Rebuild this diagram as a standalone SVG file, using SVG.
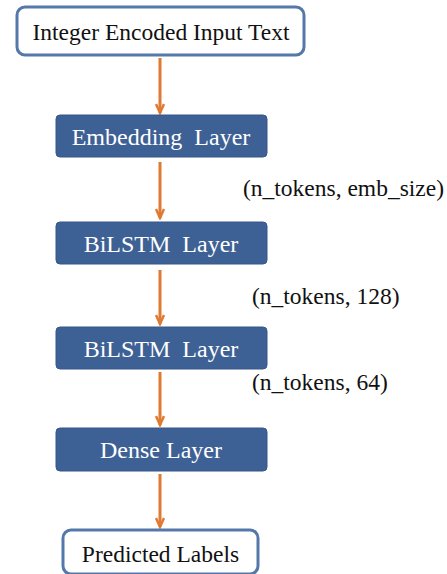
<svg xmlns="http://www.w3.org/2000/svg" width="447" height="574" viewBox="0 0 447 574">
<style>
.wbox{fill:#fff;stroke:#5578ab;stroke-width:3}
.bbox{fill:#3e6195;stroke:#37578a;stroke-width:1}
text{font-family:'Liberation Serif','Times New Roman',Times,serif;white-space:pre}
.t{font-size:23.5px;text-anchor:middle}
.tw{fill:#fff;font-size:24px}
.tb{fill:#111}
.lbl{font-size:23.5px;fill:#111}
.con{stroke:#e07a32;stroke-width:3;fill:none}
</style>
<defs>
<marker id="ah" viewBox="0 0 12 10" refX="10" refY="5" markerWidth="12" markerHeight="10" markerUnits="userSpaceOnUse" orient="auto">
<path d="M1,1 L10,5 L1,9" fill="none" stroke="#e07a32" stroke-width="2.5"/>
</marker>
</defs>
<rect width="447" height="574" fill="#fff"/>
<g id="connectors">
<line class="con" x1="160" y1="58" x2="160" y2="113" marker-end="url(#ah)"/>
<line class="con" x1="160" y1="162" x2="160" y2="218" marker-end="url(#ah)"/>
<line class="con" x1="160" y1="270" x2="160" y2="324" marker-end="url(#ah)"/>
<line class="con" x1="160" y1="372" x2="160" y2="425" marker-end="url(#ah)"/>
<line class="con" x1="160" y1="474" x2="160" y2="527" marker-end="url(#ah)"/>
</g>
<g id="input">
<rect class="wbox" x="17" y="7" width="287" height="48" rx="8"/>
<text class="t tb" x="161" y="40">Integer Encoded Input Text</text>
</g>
<g id="embedding">
<rect class="bbox" x="56" y="115" width="211" height="42" rx="4"/>
<text class="t tw" x="161" y="145" xml:space="preserve">Embedding  Layer</text>
</g>
<g id="bilstm1">
<rect class="bbox" x="56" y="222" width="211" height="42" rx="4"/>
<text class="t tw" x="161" y="252" xml:space="preserve">BiLSTM  Layer</text>
</g>
<g id="bilstm2">
<rect class="bbox" x="56" y="327" width="211" height="42" rx="4"/>
<text class="t tw" x="161" y="357" xml:space="preserve">BiLSTM  Layer</text>
</g>
<g id="dense">
<rect class="bbox" x="56" y="428" width="211" height="43" rx="4"/>
<text class="t tw" x="161" y="458">Dense Layer</text>
</g>
<g id="output">
<rect class="wbox" x="63" y="530" width="195" height="44" rx="8"/>
<text class="t tb" x="160.5" y="562">Predicted Labels</text>
</g>
<g id="labels">
<text class="lbl" x="243" y="196">(n_tokens, emb_size)</text>
<text class="lbl" x="252" y="304">(n_tokens, 128)</text>
<text class="lbl" x="252" y="390">(n_tokens, 64)</text>
</g>
</svg>
